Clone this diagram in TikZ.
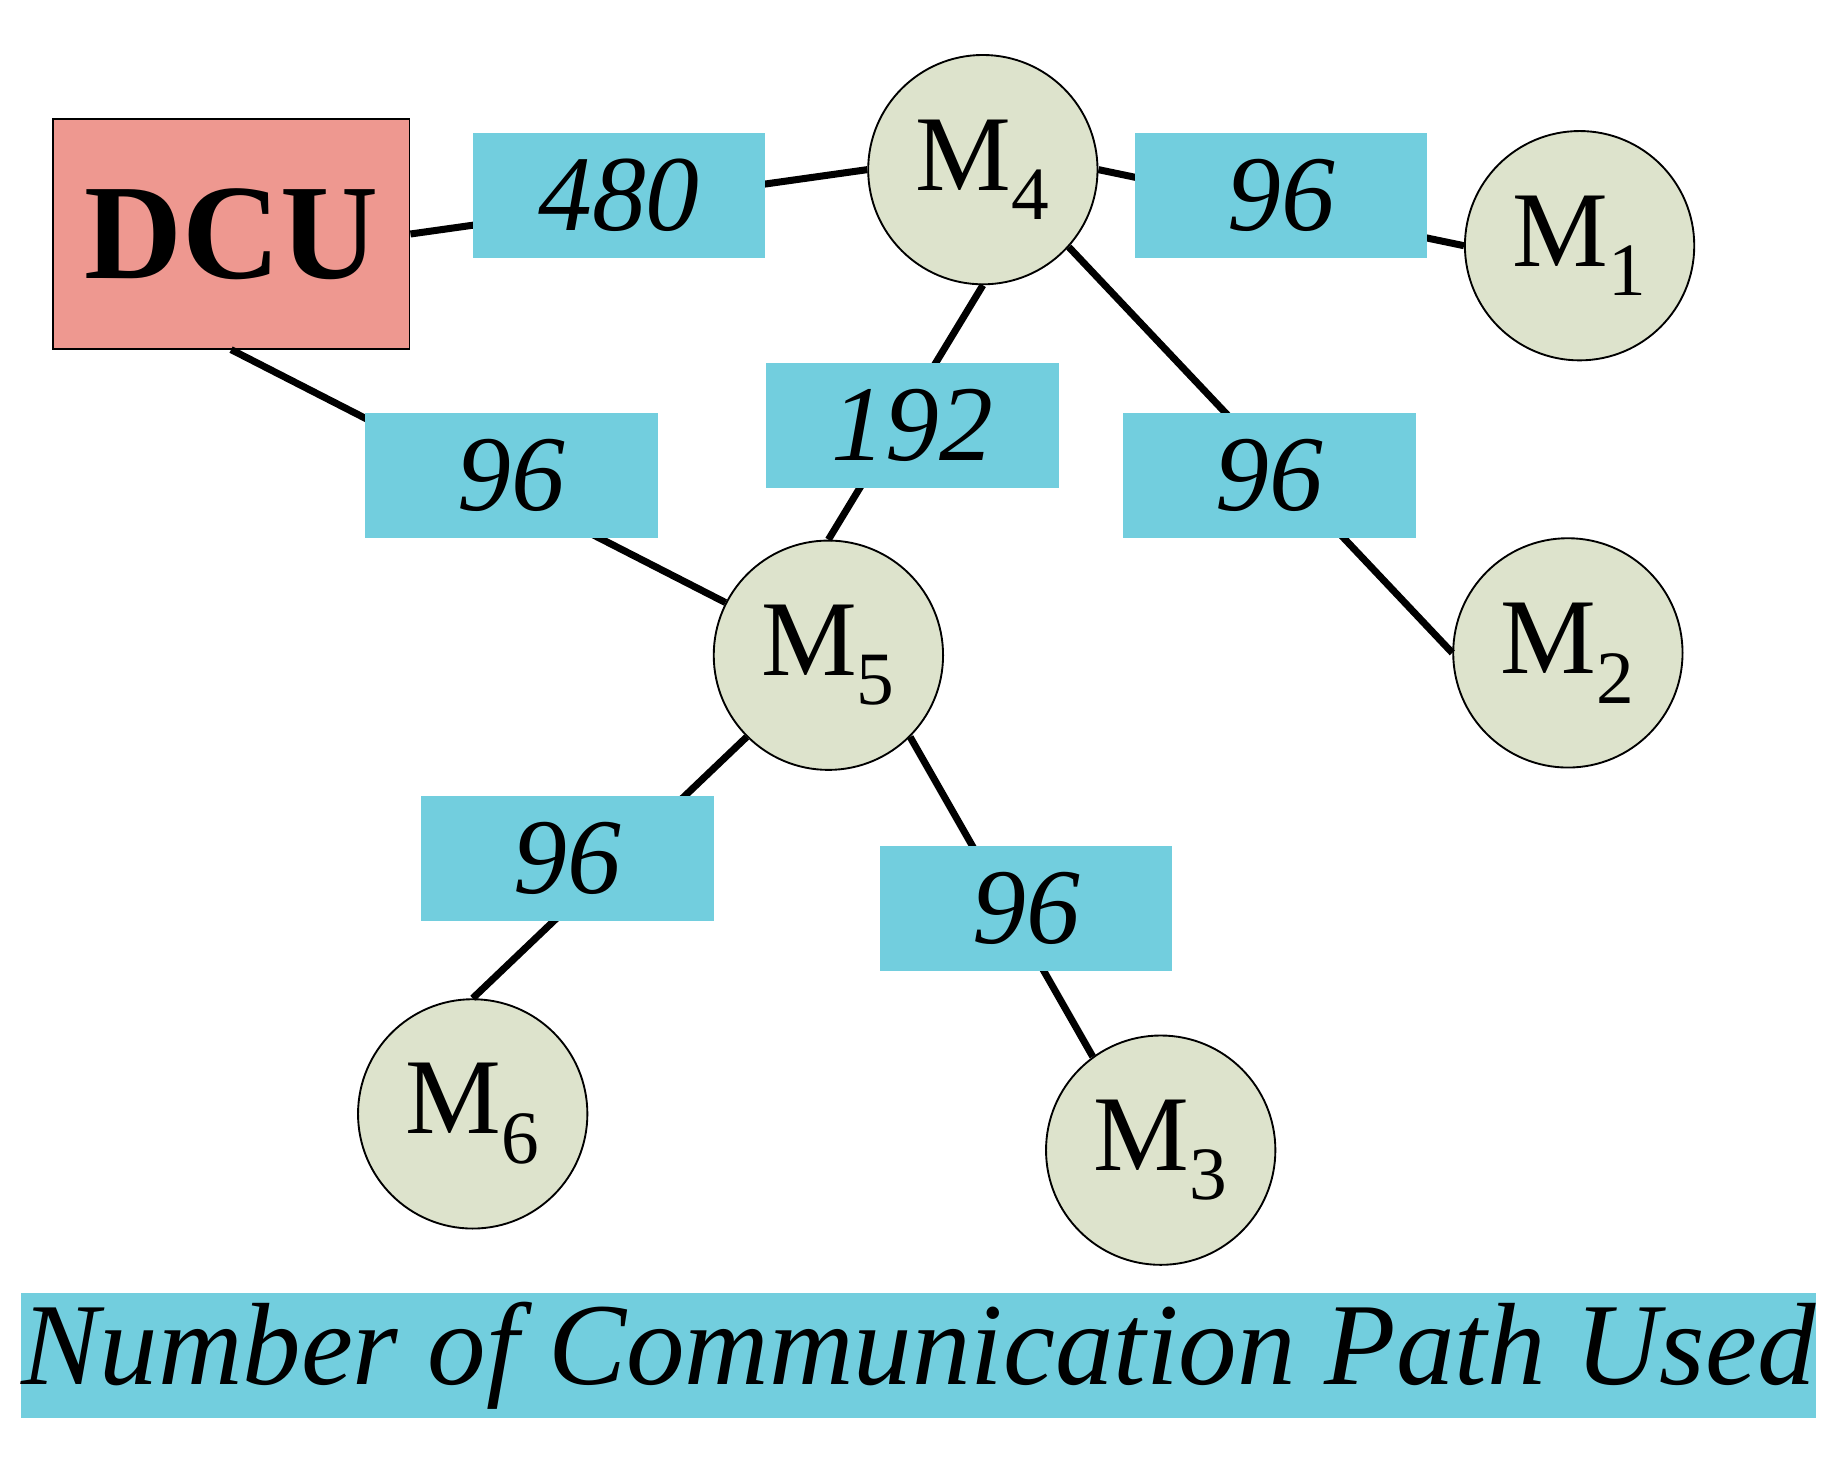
\documentclass[tikz,border=0pt]{standalone}
\usepackage{fontspec}
\setmainfont{Liberation Serif}
\definecolor{boxc}{HTML}{72CEDE}
\definecolor{circc}{HTML}{DDE3CC}
\definecolor{dcuc}{HTML}{EE9890}
\begin{document}
\begin{tikzpicture}[x=0.5pt,y=-0.5pt,
  mote/.style={circle,draw=black,line width=0.8pt,fill=circc,minimum size=98pt,inner sep=0pt,font=\fontsize{46}{46}\selectfont},
  lab/.style={fill=boxc,minimum width=125pt,minimum height=53.5pt,inner sep=0pt,font=\itshape\fontsize{46}{46}\selectfont},
  link/.style={line width=3pt}]
\useasboundingbox (0,0) rectangle (1570,1245);
\node[draw=black,line width=0.8pt,fill=dcuc,minimum width=152.5pt,minimum height=98pt,inner sep=0pt,font=\bfseries\fontsize{58}{58}\selectfont] (DCU) at (197.5,200) {DCU};
\node[mote] (M4) at (840,145) {M\textsubscript{4}};
\node[mote] (M1) at (1350,210) {M\textsubscript{1}};
\node[mote] (M5) at (708,560) {M\textsubscript{5}};
\node[mote] (M2) at (1340,558) {M\textsubscript{2}};
\node[mote] (M6) at (404,952) {M\textsubscript{6}};
\node[mote] (M3) at (992,983) {M\textsubscript{3}};
\draw[link] (DCU.east) -- (M4.west);
\draw[link] (DCU.south) -- (M5);
\draw[link] (M4.east) -- (M1.west);
\draw[link] (M4.south) -- (M5.north);
\draw[link] (M4.-42) -- (M2.west);
\draw[link] (M5.225) -- (M6.north);
\draw[link] (M5.-45) -- (M3.126);
\node[lab] (a) at (529,167) {480};
\node[lab] (b) at (1095,167) {96};
\node[lab] (c) at (780,363.5) {192};
\node[lab] (d) at (1085,406.5) {96};
\node[lab] (e) at (437,406.5) {96};
\node[lab] (f) at (485,733.5) {96};
\node[lab] (g) at (877,776.5) {96};
\node[fill=boxc,minimum width=756pt,minimum height=53.5pt,inner sep=0pt,font=\itshape\fontsize{50}{50}\selectfont] (t) at (785,1158.5) {Number of Communication Path Used};
\end{tikzpicture}
\end{document}
